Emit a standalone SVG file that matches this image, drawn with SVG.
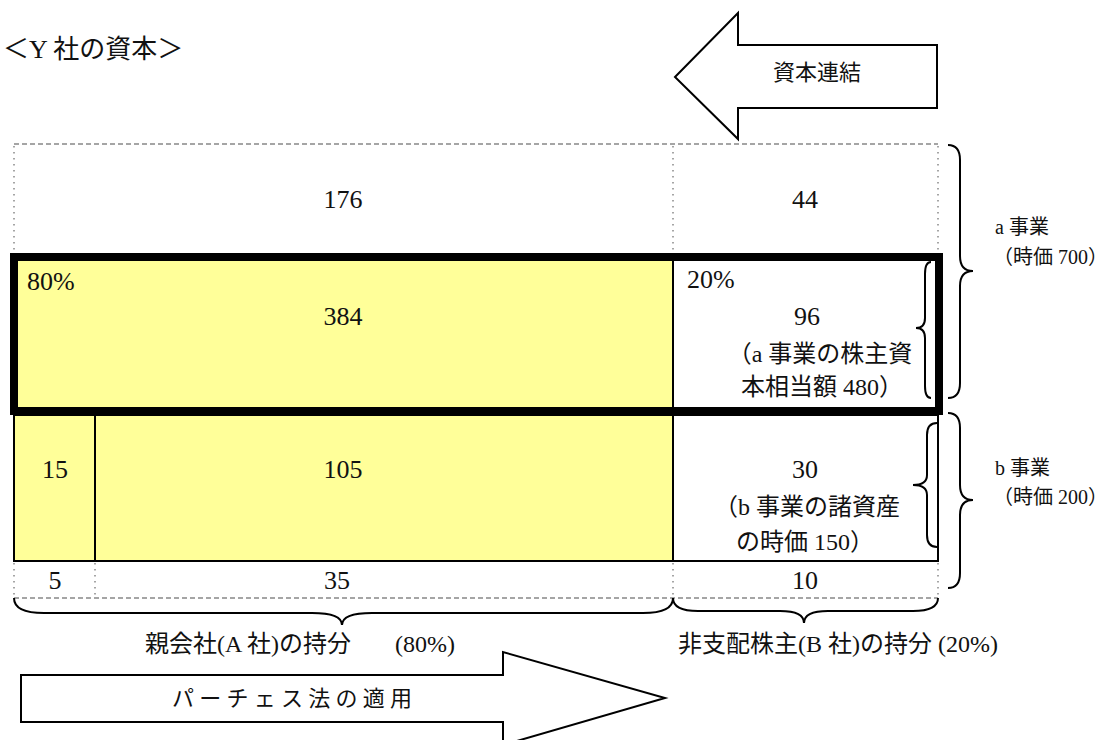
<svg xmlns="http://www.w3.org/2000/svg" width="1108" height="740" viewBox="0 0 1108 740">
<style>
text{font-family:"Liberation Serif","Noto Sans CJK JP",serif;fill:#111;}
.t26{font-size:26px;}
.t24{font-size:24px;}
.t22{font-size:22px;}
.t20{font-size:20px;}
.m{text-anchor:middle;}
.dot{stroke:#888;stroke-width:1.5;stroke-dasharray:1.5 4.5;fill:none;}
.dash{stroke:#888;stroke-width:1.5;stroke-dasharray:5 3;fill:none;}
.thin{stroke:#000;stroke-width:2;fill:none;}
.br{stroke:#000;stroke-width:2;fill:none;}
.yel{fill:#FFFF99;stroke:none;}
.arr{fill:#fff;stroke:#000;stroke-width:2;}
</style>
<rect width="1108" height="740" fill="#fff"/>

<g id="title">
<text class="t26" x="3" y="58">＜Y 社の資本＞</text>
</g>

<g id="arrow-capital">
<polygon class="arr" points="675,77 738,13 738,45 937,45 937,108 738,108 738,139"/>
<text class="t22 m" x="817" y="80">資本連結</text>
</g>

<g id="row-top">
<line class="dash" x1="14" y1="144" x2="938" y2="144"/>
<line class="dot" x1="14" y1="146" x2="14" y2="253"/>
<line class="dot" x1="673" y1="146" x2="673" y2="253"/>
<line class="dot" x1="938" y1="146" x2="938" y2="253"/>
<text class="t26 m" x="343" y="208">176</text>
<text class="t26 m" x="805" y="208">44</text>
</g>

<g id="row-a">
<rect class="yel" x="14" y="257" width="659" height="154"/>
<line class="thin" x1="673" y1="257" x2="673" y2="411"/>
<rect x="14" y="257" width="925" height="154" fill="none" stroke="#000" stroke-width="8"/>
<text class="t26" x="27" y="290">80%</text>
<text class="t26 m" x="343" y="325">384</text>
<text class="t26" x="687" y="288">20%</text>
<text class="t26 m" x="807" y="325">96</text>
<text class="t24 m" x="820" y="362">（a 事業の株主資</text>
<text class="t24 m" x="822" y="395">本相当額 480）</text>
</g>

<g id="row-b">
<rect class="yel" x="14" y="415" width="659" height="146"/>
<rect class="thin" x="14" y="415" width="924" height="146"/>
<line class="thin" x1="95" y1="415" x2="95" y2="561"/>
<line class="thin" x1="673" y1="415" x2="673" y2="561"/>
<text class="t26 m" x="55" y="478">15</text>
<text class="t26 m" x="343" y="478">105</text>
<text class="t26 m" x="805" y="478">30</text>
<text class="t24 m" x="807" y="515">（b 事業の諸資産</text>
<text class="t24 m" x="805" y="550">の時価 150）</text>
</g>

<g id="row-bottom">
<line class="dot" x1="14" y1="563" x2="14" y2="597"/>
<line class="dot" x1="95" y1="563" x2="95" y2="597"/>
<line class="dot" x1="673" y1="563" x2="673" y2="597"/>
<line class="dot" x1="938" y1="563" x2="938" y2="597"/>
<line class="dash" x1="14" y1="598" x2="938" y2="598"/>
<text class="t26 m" x="55" y="589">5</text>
<text class="t26 m" x="337" y="589">35</text>
<text class="t26 m" x="805" y="589">10</text>
</g>

<g id="braces">
<path class="br" d="M14,598 Q14,613 44,613 L312,613 Q342,613 342,625 Q342,613 372,613 L643,613 Q673,613 673,598"/>
<path class="br" d="M673,598 Q673,611 698,611 L780,611 Q804,611 804,623 Q804,611 828,611 L913,611 Q938,611 938,598"/>
<path class="br" d="M948,145 Q960,145 960,160 L960,256 Q960,271 973,271 Q960,271 960,286 L960,383 Q960,398 948,398"/>
<path class="br" d="M948,413 Q960,413 960,428 L960,485 Q960,500 973,500 Q960,500 960,515 L960,573 Q960,588 948,588"/>
<path class="br" d="M931,262 Q925,262 925,274 L925,318 Q925,328 916,328 Q925,328 925,338 L925,386 Q925,398 931,398"/>
<path class="br" d="M937,423 Q927,423 927,435 L927,475 Q927,485 913,485 Q927,485 927,495 L927,535 Q927,547 937,547"/>
</g>

<g id="label-a">
<text class="t20" x="995" y="234">a 事業</text>
<text class="t20" x="993" y="264">（時価 700）</text>
</g>
<g id="label-b">
<text class="t20" x="995" y="475">b 事業</text>
<text class="t20" x="993" y="504">（時価 200）</text>
</g>

<g id="label-parent">
<text class="t24" x="145" y="652">親会社(A 社)の持分</text>
<text class="t24" x="395" y="652">(80%)</text>
</g>
<g id="label-nci">
<text class="t24" x="678" y="652">非支配株主(B 社)の持分 (20%)</text>
</g>

<g id="arrow-purchase">
<polygon class="arr" points="21,675 503,675 503,652 665,698 503,745 503,722 21,722"/>
<text class="t22" x="172" y="706" textLength="240" lengthAdjust="spacing">パーチェス法の適用</text>
</g>
</svg>
